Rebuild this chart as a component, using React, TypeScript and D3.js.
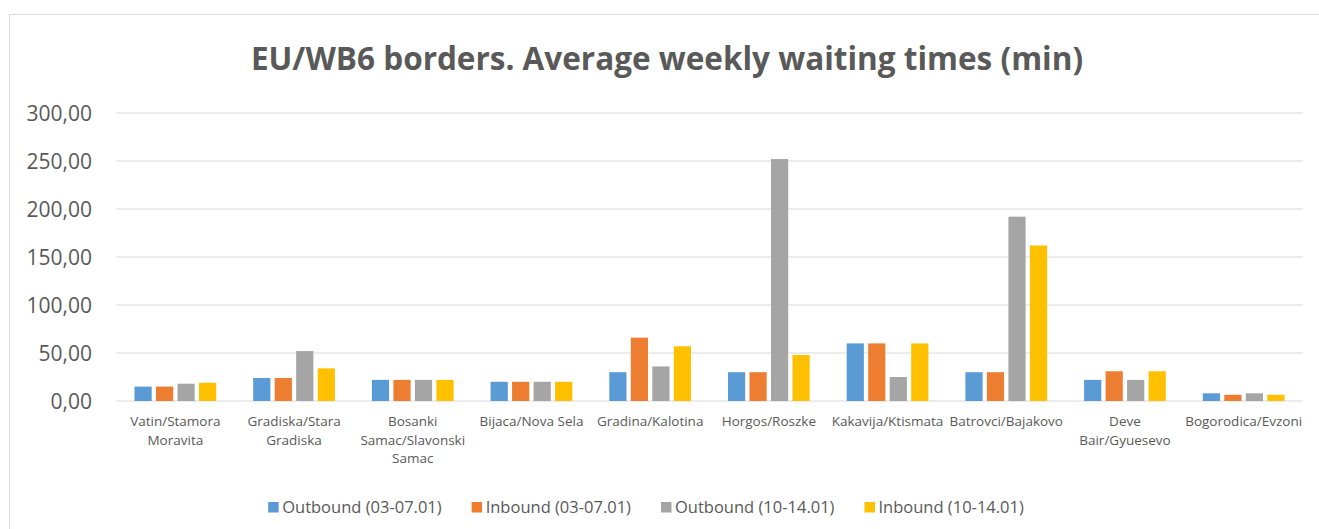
import { useEffect, useRef } from "react";
import * as d3 from "d3";

const categories = [
  "Vatin/Stamora\nMoravita",
  "Gradiska/Stara\nGradiska",
  "Bosanki\nSamac/Slavonski\nSamac",
  "Bijaca/Nova Sela",
  "Gradina/Kalotina",
  "Horgos/Roszke",
  "Kakavija/Ktismata",
  "Batrovci/Bajakovo",
  "Deve\nBair/Gyuesevo",
  "Bogorodica/Evzoni",
];

const seriesNames = [
  "Outbound (03-07.01)",
  "Inbound (03-07.01)",
  "Outbound (10-14.01)",
  "Inbound (10-14.01)",
];

const outbound1 = [15, 24, 22, 20, 30, 30, 60, 30, 22, 8];
const inbound1 = [15, 24, 22, 20, 66, 30, 60, 30, 31, 6.5];
const outbound2 = [18, 52, 22, 20, 36, 252, 25, 192, 22, 8];
const inbound2 = [19, 34, 22, 20, 57, 48, 60, 162, 31, 6.5];

const yTicks = [0, 50, 100, 150, 200, 250, 300];
const colors = ["#5B9BD5", "#ED7D31", "#A5A5A5", "#FFC000"];

const App = () => {
  const ref = useRef<SVGSVGElement>(null);

  useEffect(() => {
    const W = 1319,
      H = 529,
      font = "'Open Sans', sans-serif",
      textColor = "#595959";

    const svg = d3.select(ref.current);
    svg.selectAll("*").remove();

    svg
      .append("rect")
      .attr("x", 9.5)
      .attr("y", 14.5)
      .attr("width", W)
      .attr("height", H)
      .attr("fill", "#fff")
      .attr("stroke", "#d9d9d9");

    svg
      .append("text")
      .attr("x", 667)
      .attr("y", 70)
      .attr("text-anchor", "middle")
      .attr("fill", textColor)
      .style("font-family", font)
      .style("font-weight", "bold")
      .style("font-size", "31.5px")
      .text("EU/WB6 borders. Average weekly waiting times (min)");

    const x0 = d3.scaleBand<string>().domain(categories).range([116, 1303]);
    const x1 = d3
      .scaleBand<number>()
      .domain([0, 1, 2, 3])
      .range([0, x0.bandwidth()])
      .paddingInner(0.2)
      .paddingOuter(0.86);
    const y = d3.scaleLinear().domain([0, 300]).range([401, 113]);

    // grid + y labels
    const grid = svg.append("g");
    yTicks.forEach((t) => {
      grid
        .append("line")
        .attr("x1", 116)
        .attr("x2", 1303)
        .attr("y1", y(t))
        .attr("y2", y(t))
        .attr("stroke", "#d9d9d9")
        .attr("stroke-width", 1.2);
      grid
        .append("text")
        .attr("x", 92)
        .attr("y", y(t))
        .attr("dy", "0.36em")
        .attr("text-anchor", "end")
        .attr("fill", textColor)
        .style("font-family", font)
        .style("font-size", "21px")
        .text(d3.format(".2f")(t).replace(".", ","));
    });

    const data = [outbound1, inbound1, outbound2, inbound2];
    const bars = svg.append("g");
    categories.forEach((c, i) => {
      const g = bars.append("g").attr("transform", `translate(${x0(c)},0)`);
      data.forEach((s, j) => {
        g.append("rect")
          .attr("x", x1(j)!)
          .attr("y", y(s[i]))
          .attr("width", x1.bandwidth())
          .attr("height", y(0) - y(s[i]))
          .attr("fill", colors[j]);
      });
    });

    // category labels
    const labels = svg.append("g");
    categories.forEach((c) => {
      const t = labels
        .append("text")
        .attr("text-anchor", "middle")
        .attr("fill", textColor)
        .style("font-family", font)
        .style("font-size", "13.5px");
      c.split("\n").forEach((line, k) => {
        t.append("tspan")
          .attr("x", x0(c)! + x0.bandwidth() / 2)
          .attr("y", 426 + k * 18.5)
          .text(line);
      });
    });

    // legend
    const legend = svg.append("g");
    const items = seriesNames.map((name, j) => {
      const g = legend.append("g");
      g.append("rect")
        .attr("x", 0)
        .attr("y", 502)
        .attr("width", 10.5)
        .attr("height", 10.5)
        .attr("fill", colors[j]);
      const t = g
        .append("text")
        .attr("x", 14)
        .attr("y", 513)
        .attr("fill", textColor)
        .style("font-family", font)
        .style("font-size", "16.5px")
        .text(name);
      return { g, w: 14 + (t.node() as SVGTextElement).getComputedTextLength() };
    });
    const gap = 30;
    const total = d3.sum(items, (d) => d.w) + gap * (items.length - 1);
    let cx = 646 - total / 2;
    items.forEach((it) => {
      it.g.attr("transform", `translate(${cx},0)`);
      cx += it.w + gap;
    });
  }, []);

  return (
    <svg
      ref={ref}
      width={1319}
      height={529}
      style={{ position: "absolute", left: 0, top: 0, display: "block" }}
    />
  );
};

export default App;
